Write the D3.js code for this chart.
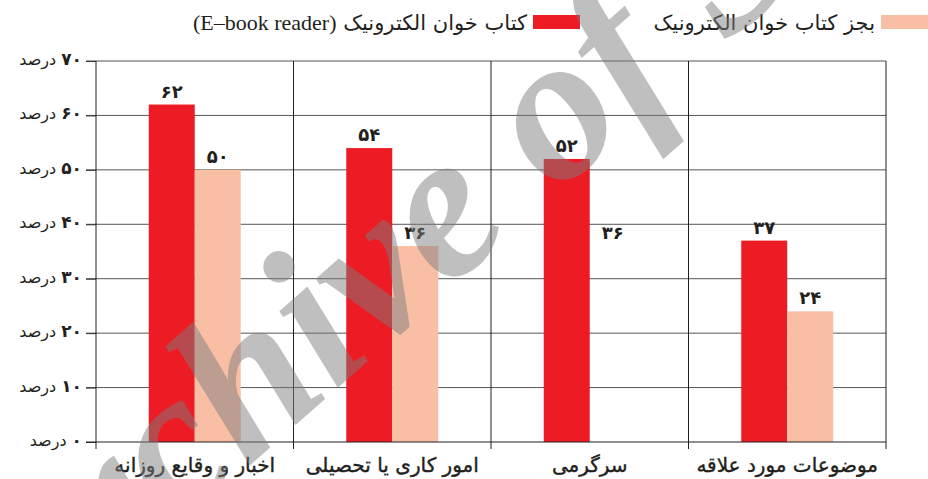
<!DOCTYPE html>
<html>
<head>
<meta charset="utf-8">
<script src="https://cdn.jsdelivr.net/npm/d3@7"></script>
<style>
  body { margin: 0; background: #fff; }
  svg { display: block; }
</style>
</head>
<body>
<script>
const width = 928
const height = 479

// datos
const categorias = ['اخبار و وقایع روزانه', 'امور کاری یا تحصیلی', 'سرگرمی', 'موضوعات مورد علاقه']
const ebook = [62, 54, 52, 37]
const otros = [50, 36, 36, 24]
const otrosConBarra = [true, true, false, true] // in the original, the bar for سرگرمی is missing
const etiquetasValor = {
  ebook: ['۶۲', '۵۴', '۵۲', '۳۷'],
  otros: ['۵۰', '۳۶', '۳۶', '۲۴'],
}
const yTicks = [0, 10, 20, 30, 40, 50, 60, 70]
const yNumeros = ['۰', '۱۰', '۲۰', '۳۰', '۴۰', '۵۰', '۶۰', '۷۰']
const yUnidad = ' درصد'
const series = ['ebook', 'otros']
const leyenda = ['کتاب خوان الکترونیک ', '(E–book reader)', 'بجز کتاب خوان الکترونیک']

const color = d3.scaleOrdinal().domain(series).range(['#ed1c24', '#f9bfa5'])

const mLeft = 96, mRight = 886, mTop = 61, mBottom = 442

const x = d3.scaleBand().domain(categorias).range([mLeft, mRight])
const xSub = d3.scaleBand().domain(series).range([0, x.bandwidth()]).paddingOuter(1.147)
const y = d3.scaleLinear().domain([0, 70]).range([mBottom, mTop])

const svg = d3.select('body').append('svg').attr('width', width).attr('height', height)

const fa = 'DejaVu Sans'
const tinta = '#231f20'

// grid horizontal
svg.append('g')
  .selectAll('line')
  .data(yTicks.filter(d => d > 0))
  .join('line')
  .attr('x1', mLeft - 10)
  .attr('x2', mRight)
  .attr('y1', d => y(d))
  .attr('y2', d => y(d))
  .attr('stroke', '#555')
  .attr('stroke-width', 1)

// eje y
const ejeY = svg.append('g')
  .attr('transform', `translate(${mLeft},0)`)
  .call(d3.axisLeft(y).tickValues(yTicks).tickSize(10).tickPadding(4).tickFormat(''))
ejeY.select('.domain').remove()
ejeY.selectAll('.tick line').attr('stroke', '#333')
const yTexto = ejeY.selectAll('.tick text')
  .attr('font-family', fa)
  .attr('fill', tinta)
  .attr('direction', 'rtl')
  .attr('text-anchor', 'start')
  .attr('dy', '0.35em')
yTexto.append('tspan').text((d, i) => yNumeros[i]).attr('font-weight', 'bold').attr('font-size', 17)
yTexto.append('tspan').text(yUnidad).attr('font-size', 16)

// barras
const grupos = svg.append('g')
  .selectAll('g')
  .data(categorias.map((c, i) => ({ c, i })))
  .join('g')
  .attr('transform', d => `translate(${x(d.c)},0)`)

const barras = d => [
  { s: 'ebook', v: ebook[d.i], label: etiquetasValor.ebook[d.i], show: true },
  { s: 'otros', v: otros[d.i], label: etiquetasValor.otros[d.i], show: otrosConBarra[d.i] },
]

grupos.selectAll('rect')
  .data(d => barras(d).filter(b => b.show))
  .join('rect')
  .attr('x', b => xSub(b.s))
  .attr('width', xSub.bandwidth())
  .attr('y', b => y(b.v))
  .attr('height', b => mBottom - y(b.v))
  .attr('fill', b => color(b.s))

grupos.selectAll('text')
  .data(barras)
  .join('text')
  .text(b => b.label)
  .attr('x', b => xSub(b.s) + xSub.bandwidth() / 2)
  .attr('y', b => y(b.v) - 7)
  .attr('text-anchor', 'middle')
  .attr('font-family', fa)
  .attr('font-weight', 'bold')
  .attr('font-size', 18)
  .attr('fill', tinta)

// lineas verticales y base
svg.append('g')
  .selectAll('line')
  .data(categorias.map(c => x(c)).concat([mRight]))
  .join('line')
  .attr('x1', d => d)
  .attr('x2', d => d)
  .attr('y1', mTop)
  .attr('y2', mBottom + 7)
  .attr('stroke', tinta)
  .attr('stroke-width', 1)

svg.append('line')
  .attr('x1', mLeft - 10).attr('x2', mRight)
  .attr('y1', mBottom).attr('y2', mBottom)
  .attr('stroke', tinta)

// categorias
svg.append('g')
  .selectAll('text')
  .data(categorias)
  .join('text')
  .text(d => d)
  .attr('x', d => x(d) + x.bandwidth() / 2)
  .attr('y', 472)
  .attr('text-anchor', 'middle')
  .attr('direction', 'rtl')
  .attr('font-family', fa)
  .attr('font-size', 20)
  .attr('fill', tinta)
  .attr('stroke', tinta)
  .attr('stroke-width', 0.4)

// leyenda
svg.append('rect').attr('x', 533).attr('y', 15).attr('width', 47).attr('height', 14).attr('fill', color('ebook'))
svg.append('rect').attr('x', 881).attr('y', 15).attr('width', 47).attr('height', 14).attr('fill', color('otros'))

const ley1 = svg.append('text')
  .attr('x', 527).attr('y', 30)
  .attr('direction', 'rtl').attr('text-anchor', 'start')
  .attr('font-family', fa).attr('font-size', 21).attr('fill', tinta)
ley1.append('tspan').text(leyenda[0])
ley1.append('tspan').text(leyenda[1]).attr('font-family', 'Liberation Serif').attr('font-size', 22)

svg.append('text')
  .text(leyenda[2])
  .attr('x', 875).attr('y', 30)
  .attr('direction', 'rtl').attr('text-anchor', 'start')
  .attr('font-family', fa).attr('font-size', 21).attr('fill', tinta)

// marca de agua
svg.append('text')
  .text('Archive of SID')
  .attr('transform', 'translate(12,676) rotate(-41.5)')
  .attr('font-family', 'Liberation Serif')
  .attr('font-style', 'italic')
  .attr('font-weight', 'bold')
  .attr('font-size', 209)
  .attr('fill', '#7d7d7d')
  .attr('opacity', 0.49)
</script>
</body>
</html>
